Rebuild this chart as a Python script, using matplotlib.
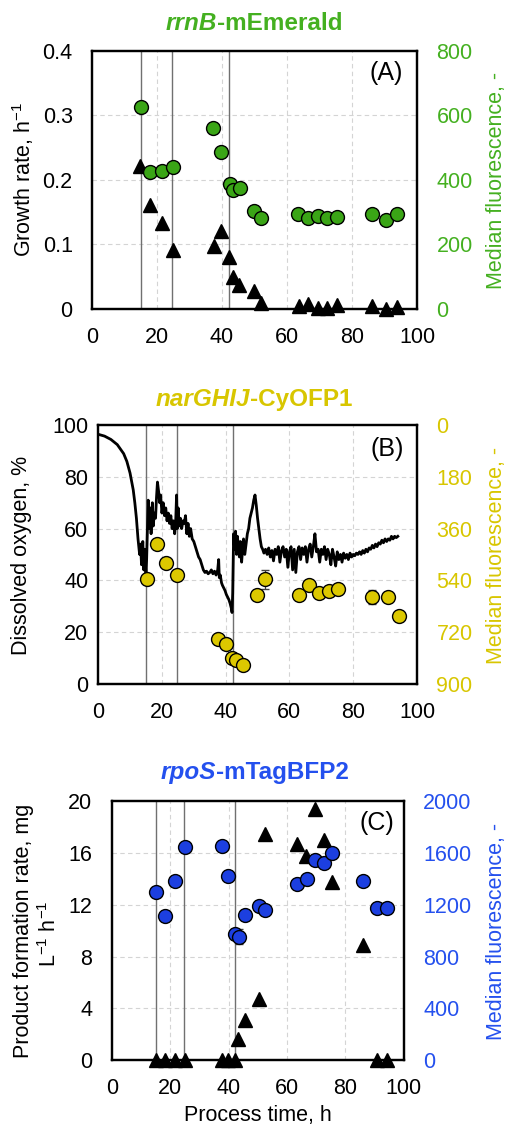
import matplotlib
matplotlib.use("Agg")
import matplotlib.pyplot as plt
import numpy as np

plt.rcParams['font.family'] = ['Liberation Sans', 'DejaVu Sans']
plt.rcParams['mathtext.fontset'] = 'custom'
plt.rcParams['mathtext.rm'] = 'Liberation Sans'
plt.rcParams['mathtext.it'] = 'Liberation Sans:italic'

# ---------------- data ----------------
# Panel A: growth rate (triangles) and rrnB-mEmerald fluorescence (circles)
a_t_growth = [14.9, 17.9, 21.4, 24.9, 37.5, 39.7, 42.2, 43.3, 45.2, 49.8, 51.9,
              63.6, 66.6, 69.4, 72.4, 75.5, 86.1, 90.5, 93.8]
a_growth = [0.222, 0.161, 0.133, 0.091, 0.098, 0.121, 0.081, 0.050, 0.037, 0.028, 0.009,
            0.005, 0.008, 0.001, 0.001, 0.006, 0.004, 0.000, 0.003]
a_t_fl = [15.0, 17.9, 21.4, 24.9, 37.3, 39.7, 42.3, 43.3, 45.4, 49.9, 51.9,
          63.5, 66.5, 69.4, 72.4, 75.5, 86.1, 90.5, 93.8]
a_fl = [625, 423, 429, 439, 562, 488, 387, 369, 376, 305, 283,
        295, 281, 289, 281, 285, 294, 277, 294]

# Panel B: dissolved oxygen trace and narGHIJ-CyOFP1 fluorescence
do_t = [0, 2, 4, 6, 8, 9, 10, 11, 11.5, 12, 12.5, 13, 13.3, 13.6, 14, 14.3, 14.6, 15,
        15.2, 15.5, 15.7, 16, 16.3, 16.6, 17, 17.3, 17.6, 18, 18.3, 18.6, 19, 19.3,
        19.6, 20, 20.4, 20.8, 21.2, 21.6, 22, 22.4, 22.8, 23.2, 23.6, 24, 24.3, 24.6,
        24.8, 25.1, 25.4, 25.8, 26.2, 26.6, 27, 27.4, 27.8, 28.2, 28.6, 29, 29.5, 30,
        30.5, 31, 31.5, 32, 32.5, 33, 33.5, 34, 34.5, 35, 35.5, 36, 36.5, 37, 37.5,
        37.8, 38, 38.3, 38.7, 39, 39.4, 39.8, 40.2, 40.6, 41, 41.4, 41.8, 42, 42.2,
        42.5, 42.8, 43.1, 43.4, 43.7, 44, 44.3, 44.6, 45, 45.3, 45.6, 46, 46.4, 46.8,
        47.2, 47.6, 48, 48.4, 48.8, 49.2, 49.6, 50, 50.4, 50.8, 51.2, 51.6, 52,
        52.5, 53, 53.5, 54, 54.5, 55, 55.5, 56, 56.5, 57, 57.5, 58, 58.5, 59, 59.5,
        60, 60.5, 61, 61.5, 62, 62.5, 63, 63.5, 64, 64.5, 65, 65.5, 66, 66.5, 67,
        67.5, 68, 68.5, 69, 69.5, 70, 70.5, 71, 71.5, 72, 72.5, 73, 73.5, 74, 74.5,
        75, 75.5, 76, 76.5, 77, 77.5, 78, 78.5, 79, 79.5, 80,
        80.5, 81, 81.5, 82, 82.5, 83, 83.5, 84, 84.5, 85, 85.5, 86, 86.5, 87, 87.5,
        88, 88.5, 89, 89.5, 90, 90.5, 91, 91.5, 92, 92.5, 93, 93.5, 94]
do_val = [96.5, 95.8, 94.5, 92.5, 89, 86, 81.5, 75, 70, 64, 56, 50, 54, 46, 55, 44, 52, 42,
          48, 62, 71, 60, 68, 58, 70, 61, 66, 64, 72, 78, 74, 70,
          73, 66, 70, 65, 68, 63, 66, 62, 65, 60, 63, 58, 62, 73,
          60, 68, 61, 64, 60, 63, 62, 65, 58, 62, 57, 60, 56, 55,
          53, 51, 49, 48, 46, 44, 43, 43.5, 42.5, 43, 44, 42.5, 43.5, 42, 44,
          48, 41, 42, 39, 38, 37, 36, 34.5, 33.5, 32.5, 31, 29, 27.5, 35,
          58, 52, 59, 50, 57, 52, 49, 55, 47, 52, 56, 50, 54, 58,
          60, 64, 66, 68, 71, 73, 69, 64, 60, 56, 53, 52, 50.5,
          52, 50, 52.5, 49, 51.5, 47.5, 52, 50, 53, 47, 51.5, 53, 49, 52, 45,
          51, 53, 44, 52, 43, 51, 53, 48, 52.5, 50, 53, 47, 52, 54, 49,
          53, 58, 51, 52, 47, 52, 50, 53, 48, 52, 50, 46, 52, 49, 45.5,
          51, 48, 50, 47, 50.5, 48.5, 50, 48, 50.5, 49, 50,
          49.5, 50.5, 50, 51, 50, 51.5, 50.5, 52, 51, 52.5, 52, 53.5, 52.5, 54, 53,
          54.5, 54, 55.5, 54.5, 56, 55, 56, 55.5, 57, 56, 57, 56.5, 57]
b_t_fl = [15.3, 18.3, 21.3, 24.8, 37.6, 40.0, 41.9, 43.3, 45.5, 49.8, 52.3,
          63.1, 66.2, 69.2, 72.3, 75.2, 86.0, 90.8, 94.3]
b_fl = [534, 413, 479, 520, 744, 761, 810, 819, 837, 593, 537,
        593, 555, 584, 577, 570, 599, 599, 663]
b_fl_err = [0, 0, 0, 0, 0, 0, 0, 0, 0, 0, 32,
            0, 0, 0, 0, 0, 24, 0, 0]

# Panel C: product formation rate (triangles) and rpoS-mTagBFP2 fluorescence
c_t_prod = [15.3, 18.2, 21.5, 25.0, 37.8, 39.8, 42.2, 43.3, 45.5, 50.3, 52.5,
            63.5, 66.4, 69.6, 72.7, 75.3, 86.1, 90.9, 94.4]
c_prod = [0, 0, 0, 0, 0, 0, 0, 1.68, 3.14, 4.76, 17.45,
          16.7, 15.75, 19.36, 16.99, 13.72, 8.88, 0, 0]
c_t_fl = [15.3, 18.2, 21.5, 25.0, 37.8, 39.8, 42.2, 43.4, 45.5, 50.3, 52.3,
          63.5, 66.7, 69.6, 72.6, 75.3, 86.1, 90.9, 94.4]
c_fl = [1297, 1112, 1382, 1647, 1655, 1423, 973, 952, 1120, 1189, 1158,
        1361, 1395, 1544, 1524, 1596, 1385, 1171, 1176]
c_fl_err = [0, 0, 0, 0, 0, 40, 30, 59, 0, 0, 0,
            0, 0, 0, 0, 0, 0, 0, 0]

phase_lines = [15.0, 24.6, 42.2]
x_ticks = [0, 20, 40, 60, 80, 100]

GREEN = '#3aa516'
GREEN_T = '#44b020'
YELLOW = '#dcc800'
YELLOW_T = '#d8c600'
BLUE = '#1c3fe0'
BLUE_T = '#2450ee'

FS = 15.5

fig = plt.figure(figsize=(5.06, 11.28), dpi=100)


def style_axes(ax, axr, yticks, ylim, ylabels, ryticks, rylim, rylabels, rcolor,
               left_pad=14, show_grid_y=None):
    ax.set_xlim(0, 100)
    ax.set_ylim(*ylim)
    ax.set_xticks(x_ticks)
    ax.set_xticklabels([str(v) for v in x_ticks])
    ax.set_yticks(yticks)
    ax.set_yticklabels(ylabels)
    ax.tick_params(axis='x', length=0, pad=13, labelsize=FS)
    ax.tick_params(axis='y', length=0, pad=left_pad, labelsize=FS)
    for s in ax.spines.values():
        s.set_linewidth(1.6)
    gy = yticks[1:-1] if show_grid_y is None else show_grid_y
    for v in x_ticks[1:-1]:
        ax.axvline(v, color='#d4d4d4', lw=0.8, ls=(0, (4, 3)), zorder=0)
    for v in gy:
        ax.axhline(v, color='#d4d4d4', lw=0.8, ls=(0, (4, 3)), zorder=0)
    for v in phase_lines:
        ax.axvline(v, color='#707070', lw=1.0, zorder=1)
    axr.set_ylim(*rylim)
    axr.set_yticks(ryticks)
    axr.set_yticklabels(rylabels)
    axr.tick_params(axis='y', length=0, pad=14, labelsize=FS, colors=rcolor)
    for s in axr.spines.values():
        s.set_linewidth(1.6)


def draw_title(y, ital, rest, color, xc=0.502):
    r = fig.canvas.get_renderer()
    t1 = fig.text(0, y, ital, fontsize=17.5, fontweight='bold', fontstyle='italic',
                  color=color, va='center', ha='left')
    t2 = fig.text(0, y, rest, fontsize=17.5, fontweight='bold',
                  color=color, va='center', ha='left')
    w1 = t1.get_window_extent(r).width / fig.bbox.width
    w2 = t2.get_window_extent(r).width / fig.bbox.width
    x0 = xc - (w1 + w2) / 2
    t1.set_x(x0)
    t2.set_x(x0 + w1)


tri_kw = dict(ls='none', marker='^', ms=10, color='black', mec='black', clip_on=False, zorder=3)

# ---------------- Panel A ----------------
axA = fig.add_axes([0.182, 0.726, 0.642, 0.229])
axAr = axA.twinx()
style_axes(axA, axAr, [0, 0.1, 0.2, 0.3, 0.4], (0, 0.4), ['0', '0.1', '0.2', '0.3', '0.4'],
           [0, 200, 400, 600, 800], (0, 800), ['0', '200', '400', '600', '800'], GREEN_T)
axA.plot(a_t_growth, a_growth, **tri_kw)
axAr.plot(a_t_fl, a_fl, ls='none', marker='o', ms=10, mfc=GREEN, mec='black', mew=1.0,
          clip_on=False, zorder=4)
axA.text(0.905, 0.915, '(A)', transform=axA.transAxes, fontsize=18, ha='center', va='center')
fig.text(23 / 506, 1 - 180 / 1128, 'Growth rate, h$^{-1}$', rotation=90, fontsize=FS,
         ha='center', va='center')
fig.text(497 / 506, 1 - 180 / 1128, 'Median fluorescence, -', rotation=90, fontsize=FS,
         ha='center', va='center', color=GREEN_T)
draw_title(1 - 23 / 1128, 'rrnB', '-mEmerald', GREEN_T)

# ---------------- Panel B ----------------
axB = fig.add_axes([0.194, 0.394, 0.630, 0.229])
axBr = axB.twinx()
style_axes(axB, axBr, [0, 20, 40, 60, 80, 100], (0, 100), ['0', '20', '40', '60', '80', '100'],
           [0, 180, 360, 540, 720, 900], (900, 0), ['0', '180', '360', '540', '720', '900'],
           YELLOW_T, left_pad=7)
axB.plot(do_t, do_val, color='black', lw=2.0, zorder=3)
axBr.errorbar(b_t_fl, b_fl, yerr=b_fl_err, ls='none', marker='o', ms=10, mfc=YELLOW,
              mec='black', mew=1.0, ecolor='#404040', elinewidth=0.9, capsize=3,
              capthick=0.9, zorder=4)
axB.text(0.906, 0.907, '(B)', transform=axB.transAxes, fontsize=18, ha='center', va='center')
fig.text(22 / 506, 1 - 555 / 1128, 'Dissolved oxygen, %', rotation=90, fontsize=FS,
         ha='center', va='center')
fig.text(497 / 506, 1 - 555 / 1128, 'Median fluorescence, -', rotation=90, fontsize=FS,
         ha='center', va='center', color=YELLOW_T)
draw_title(1 - 399 / 1128, 'narGHIJ', '-CyOFP1', YELLOW_T)

# ---------------- Panel C ----------------
axC = fig.add_axes([0.221, 0.060, 0.577, 0.230])
axCr = axC.twinx()
style_axes(axC, axCr, [0, 4, 8, 12, 16, 20], (0, 20), ['0', '4', '8', '12', '16', '20'],
           [0, 400, 800, 1200, 1600, 2000], (0, 2000),
           ['0', '400', '800', '1200', '1600', '2000'], BLUE_T)
axC.plot(c_t_prod, c_prod, **tri_kw)
axCr.errorbar(c_t_fl, c_fl, yerr=c_fl_err, ls='none', marker='o', ms=10, mfc=BLUE,
              mec='black', mew=1.0, ecolor='#404040', elinewidth=0.9, capsize=3,
              capthick=0.9, zorder=4)
axC.text(0.908, 0.915, '(C)', transform=axC.transAxes, fontsize=18, ha='center', va='center')
fig.text(24 / 506, 1 - 931 / 1128, 'Product formation rate, mg', rotation=90,
         fontsize=FS, ha='center', va='center')
fig.text(50 / 506, 1 - 934 / 1128, 'L$^{-1}$ h$^{-1}$', rotation=90,
         fontsize=FS, ha='center', va='center')
fig.text(497 / 506, 1 - 931 / 1128, 'Median fluorescence, -', rotation=90, fontsize=FS,
         ha='center', va='center', color=BLUE_T)
fig.text((112 + 146) / 506, 1 - 1116 / 1128, 'Process time, h', fontsize=FS,
         ha='center', va='center')
draw_title(1 - 773 / 1128, 'rpoS', '-mTagBFP2', BLUE_T, xc=0.504)

fig.savefig('out.png', dpi=100)
